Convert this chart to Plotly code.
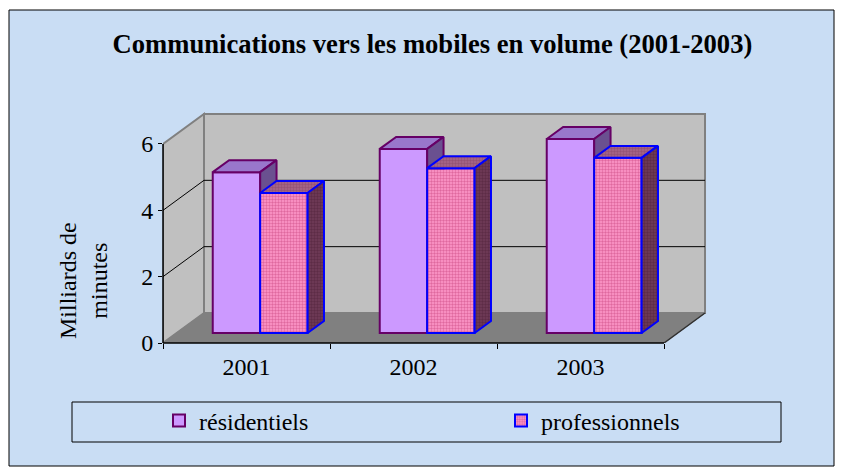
import plotly.graph_objects as go

# ---------------- data ----------------
years = ["2001", "2002", "2003"]
residentiels = [4.85, 5.55, 5.85]
professionnels = [4.22, 4.97, 5.28]
y_ticks = [0, 2, 4, 6]
series_names = ["résidentiels", "professionnels"]
title_text = "Communications vers les mobiles en volume (2001-2003)"
y_title = "Milliards de<br>minutes"

# ---------------- geometry / style ----------------
W, H = 843, 472
PL, PR, PT, PB = 163, 710, 108, 343          # plot area in px
X_MAX = 3.2754                                # x axis range (category units)
Y_MAX = 7.085                                 # y axis range (value units)
DX, DY = 0.2455, 0.9045                       # depth of 3D box in axis units
F0, F1 = 1 / 3, 0.733                         # bar front / back depth fraction
BW = 0.284                                    # bar width (category units)

FONT = "Liberation Serif, Times New Roman, serif"
BG = "#C9DDF4"
WALL = "#C0C0C0"
FLOOR = "#808080"
EDGE = "#808080"

RES_FILL, RES_TOP, RES_SIDE, RES_LINE = "#CC99FF", "#9977CC", "#6A5090", "#660066"
PRO_BG, PRO_FG, PRO_LINE = "#FF99CC", "#C03A70", "#0000FF"
PRO_TOP_BG, PRO_TOP_FG = "#A8688A", "#804060"
PRO_SIDE_BG, PRO_SIDE_FG = "#703C58", "#4A1C34"


def px_x(px):
    return (px - PL) / (PR - PL)


def px_y(py):
    return (PB - py) / (PB - PT)


n = len(years)
ymax_tick = max(y_ticks)
ddx, ddy = (F1 - F0) * DX, (F1 - F0) * DY
bx, by = F0 * DX, F0 * DY

res_left = [i + 0.5 - BW + bx for i in range(n)]
pro_left = [i + 0.5 + bx for i in range(n)]

fig = go.Figure()

# front faces as real bars
fig.add_trace(go.Bar(
    x=[l + BW / 2 for l in res_left], y=residentiels, base=by, width=BW,
    name=series_names[0],
    marker=dict(color=RES_FILL, line=dict(color=RES_LINE, width=2)),
    hoverinfo="skip"))
fig.add_trace(go.Bar(
    x=[l + BW / 2 for l in pro_left], y=professionnels, base=by, width=BW,
    name=series_names[1],
    marker=dict(color=PRO_BG, line=dict(color=PRO_LINE, width=2),
                pattern=dict(shape=".", fgcolor=PRO_FG, bgcolor=PRO_BG,
                             size=3, solidity=0.5)),
    hoverinfo="skip"))


def face(xs, ys, fill, line, pattern=None):
    kw = dict(x=xs + [xs[0]], y=ys + [ys[0]], mode="lines", fill="toself",
              fillcolor=fill, line=dict(color=line, width=2),
              showlegend=False, hoverinfo="skip")
    if pattern:
        kw["fillpattern"] = pattern
    fig.add_trace(go.Scatter(**kw))


for i in range(n):
    rv, pv = residentiels[i], professionnels[i]
    L, R = res_left[i], res_left[i] + BW
    top = by + rv
    # residential top
    face([L, R, R + ddx, L + ddx], [top, top, top + ddy, top + ddy], RES_TOP, RES_LINE)
    # residential side, clipped behind the professional front face
    ptop = by + pv
    face([R, R + ddx, R + ddx, R],
         [max(ptop, by), max(ptop, by + ddy), top + ddy, top], RES_SIDE, RES_LINE)
    # professional top and side
    L2, R2 = pro_left[i], pro_left[i] + BW
    face([L2, R2, R2 + ddx, L2 + ddx], [ptop, ptop, ptop + ddy, ptop + ddy],
         PRO_TOP_BG, PRO_LINE,
         dict(shape=".", fgcolor=PRO_TOP_FG, bgcolor=PRO_TOP_BG, size=3, solidity=0.5))
    face([R2, R2 + ddx, R2 + ddx, R2], [by, by + ddy, ptop + ddy, ptop],
         PRO_SIDE_BG, PRO_LINE,
         dict(shape=".", fgcolor=PRO_SIDE_FG, bgcolor=PRO_SIDE_BG, size=3, solidity=0.5))

shapes = []
# outer frame + background
shapes.append(dict(type="rect", xref="paper", yref="paper", layer="below",
                   x0=px_x(9), x1=px_x(834), y0=px_y(466), y1=px_y(10),
                   fillcolor=BG, line=dict(color="black", width=1)))
# left wall
shapes.append(dict(type="path", xref="x", yref="y", layer="below",
                   path=f"M0,0 L{DX},{DY} L{DX},{ymax_tick + DY} L0,{ymax_tick} Z",
                   fillcolor=WALL, line=dict(color=EDGE, width=2)))
# back wall
shapes.append(dict(type="rect", xref="x", yref="y", layer="below",
                   x0=DX, x1=n + DX, y0=DY, y1=ymax_tick + DY,
                   fillcolor=WALL, line=dict(color=EDGE, width=2)))
# floor
shapes.append(dict(type="path", xref="x", yref="y", layer="below",
                   path=f"M0,0 L{n},0 L{n + DX},{DY} L{DX},{DY} Z",
                   fillcolor=FLOOR, line=dict(color=FLOOR, width=1)))
shapes.append(dict(type="line", xref="x", yref="y", layer="below",
                   x0=n, y0=0, x1=n + DX, y1=DY,
                   line=dict(color="#303030", width=1.5)))
# gridlines
for t in y_ticks[1:-1]:
    shapes.append(dict(type="line", xref="x", yref="y", layer="below",
                       x0=DX, x1=n + DX, y0=t + DY, y1=t + DY,
                       line=dict(color="black", width=1)))
    shapes.append(dict(type="line", xref="x", yref="y", layer="below",
                       x0=0, x1=DX, y0=t, y1=t + DY,
                       line=dict(color="black", width=1)))
# front axis lines (domain refs -> not clipped)
shapes.append(dict(type="line", xref="x domain", yref="y domain",
                   x0=0, x1=0, y0=0, y1=ymax_tick / Y_MAX,
                   line=dict(color="black", width=1.5)))
shapes.append(dict(type="line", xref="x domain", yref="y domain",
                   x0=0, x1=n / X_MAX, y0=0, y1=0,
                   line=dict(color="black", width=1.5)))
# legend box
shapes.append(dict(type="rect", xref="paper", yref="paper", layer="below",
                   x0=px_x(72), x1=px_x(781), y0=px_y(442), y1=px_y(402),
                   line=dict(color="black", width=1)))

fig.update_layout(
    width=W, height=H, autosize=False,
    margin=dict(l=PL, r=W - PR, t=PT, b=H - PB, pad=0),
    paper_bgcolor="white", plot_bgcolor="rgba(0,0,0,0)",
    barmode="overlay",
    font=dict(family=FONT, size=24, color="black"),
    title=dict(text=title_text, x=0.513, xref="container", xanchor="center",
               y=1 - 44 / H, yref="container", yanchor="middle",
               font=dict(family=FONT, size=26.6, color="black", weight="bold")),
    xaxis=dict(range=[0, X_MAX], showgrid=False, zeroline=False, showline=False,
               tickmode="array", tickvals=[i + 0.5 for i in range(n)], ticktext=years,
               ticks="", ticklabelstandoff=7,
               tickfont=dict(family=FONT, size=24, color="black"),
               minor=dict(tickmode="array", tickvals=list(range(n + 1)), ticks="outside",
                          ticklen=5, tickcolor="black", tickwidth=1, showgrid=False),
               fixedrange=True),
    yaxis=dict(range=[0, Y_MAX], showgrid=False, zeroline=False, showline=False,
               tickmode="array", tickvals=y_ticks, ticks="outside", ticklen=4,
               tickcolor="black", tickfont=dict(family=FONT, size=24, color="black"),
               fixedrange=True),
    showlegend=True,
    legend=dict(orientation="h", x=px_x(160), xanchor="left", y=px_y(421), yanchor="middle",
                bgcolor="rgba(0,0,0,0)", borderwidth=0,
                entrywidth=297, entrywidthmode="pixels",
                font=dict(family=FONT, size=24, color="black")),
    shapes=shapes,
    annotations=[dict(text=y_title, xref="paper", yref="paper", x=px_x(83), y=px_y(281),
                      xanchor="center", yanchor="middle", textangle=-90, showarrow=False,
                      font=dict(family=FONT, size=24, color="black"))],
)

fig.write_html("out.html", config={"displayModeBar": False},
               post_script="document.body.style.margin='0px';")
